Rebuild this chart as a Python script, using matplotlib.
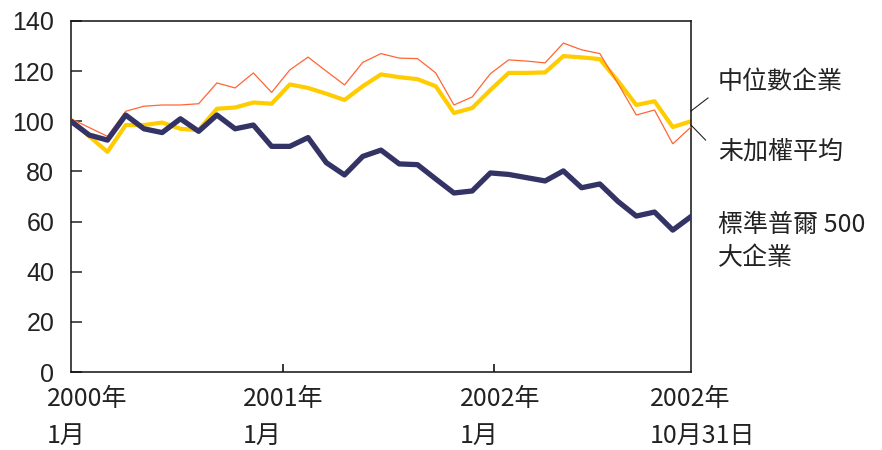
import matplotlib
matplotlib.use("Agg")
import matplotlib.pyplot as plt
from matplotlib.transforms import blended_transform_factory

plt.rcParams['font.family'] = ['Noto Sans CJK TC', 'DejaVu Sans']

# Monthly index values (Jan 2000 = 100), Jan 2000 .. Oct 31 2002
months = list(range(35))
sp500 = [100, 94.5, 92.5, 102.5, 97, 95.5, 101, 96, 102.5, 97, 98.5, 90, 90,
         93.5, 83.5, 78.6, 86, 88.5, 83, 82.7, 77, 71.4, 72.2, 79.4, 78.8,
         77.5, 76.2, 80.2, 73.5, 75, 68, 62.2, 63.8, 56.6, 62]
median_co = [100.5, 94, 87.8, 98.5, 98.5, 99.5, 97, 96.5, 105, 105.5, 107.5,
             107, 114.7, 113.3, 111, 108.5, 114, 118.7, 117.6, 116.8, 114,
             103.3, 105.3, 112.5, 119.3, 119.3, 119.5, 126, 125.5, 124.8,
             116, 106.5, 108, 97.7, 100]
unweighted = [101, 97.5, 94, 104, 106, 106.5, 106.5, 107, 115.3, 113.3, 119.3,
              111.5, 120.5, 125.6, 120, 114.5, 123.5, 127, 125.2, 125, 119.3,
              106.5, 109.7, 119, 124.5, 124, 123.3, 131.2, 128.5, 127, 115,
              102.5, 104.5, 91, 97.7]

y_ticks = [0, 20, 40, 60, 80, 100, 120, 140]
x_tick_pos = [11.62, 23.19]
x_labels = ["2000年\n1月", "2001年\n1月", "2002年\n1月", "2002年\n10月31日"]
x_label_pos = [-1.32, 9.43, 21.33, 31.74]

series_labels = ["中位數企業", "未加權平均", "標準普爾 500", "大企業"]

fig = plt.figure(figsize=(8.82, 4.5), dpi=100)
ax = fig.add_axes([71 / 882, 1 - 372 / 450, 620 / 882, 351 / 450])

ax.plot(months, unweighted, color="#FF6633", lw=0.9, solid_joinstyle="miter", zorder=3)
ax.plot(months, median_co, color="#FFCC00", lw=3.0, zorder=2)
ax.plot(months, sp500, color="#333366", lw=3.8, zorder=4)

ax.set_xlim(0, 34)
ax.set_ylim(0, 140)
ax.set_yticks(y_ticks)
ax.set_yticklabels([str(v) for v in y_ticks], fontfamily="Liberation Sans", fontsize=18)
ax.set_xticks(x_tick_pos)
ax.set_xticklabels([])
ax.tick_params(axis="y", direction="in", length=8, width=1.1, pad=12, colors="#222222")
ax.tick_params(axis="x", direction="in", length=6, width=1.1)
for s in ax.spines.values():
    s.set_linewidth(1.1)
    s.set_color("#111111")

tr = blended_transform_factory(ax.transData, ax.transAxes)
for xp, lab in zip(x_label_pos, x_labels):
    top, bottom = lab.split("\n")
    ax.text(xp, -0.04, top, transform=tr, ha="left", va="top", fontsize=18,
            color="#222222", clip_on=False)
    ax.text(xp, -0.145, bottom, transform=tr, ha="left", va="top", fontsize=18,
            color="#222222", clip_on=False)

# leader lines from series names to line ends
ax.plot([34.0, 34.93], [104.1, 109.3], color="#222222", lw=0.8, clip_on=False)
ax.plot([34.0, 34.8], [98.5, 92.5], color="#222222", lw=0.8, clip_on=False)

ax.text(35.47, 115.7, series_labels[0], ha="left", va="center", fontsize=18, clip_on=False, color="#222222")
ax.text(35.47, 87.8, series_labels[1], ha="left", va="center", fontsize=18, clip_on=False, color="#222222")
ax.text(35.47, 58.6, series_labels[2], ha="left", va="center", fontsize=18, clip_on=False, color="#222222")
ax.text(35.47, 45.5, series_labels[3], ha="left", va="center", fontsize=18, clip_on=False, color="#222222")

fig.savefig("out.png", dpi=100)
